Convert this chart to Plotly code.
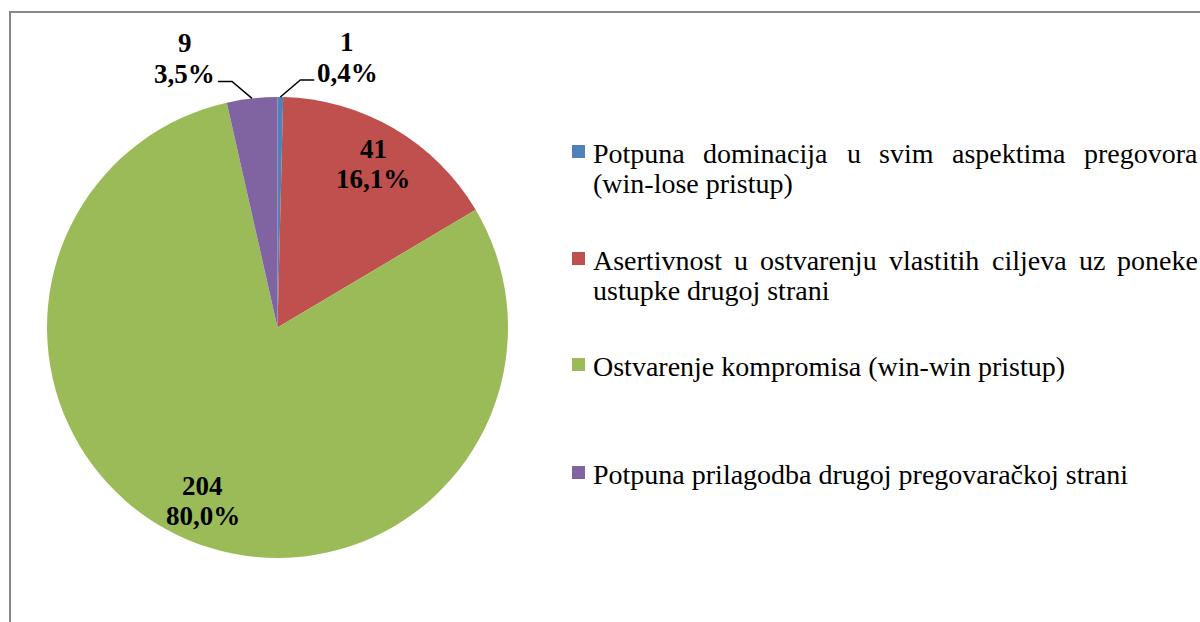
import math
import plotly.graph_objects as go

# ---------------- data ----------------
categories = [
    "Potpuna dominacija u svim aspektima pregovora (win-lose pristup)",
    "Asertivnost u ostvarenju vlastitih ciljeva uz poneke ustupke drugoj strani",
    "Ostvarenje kompromisa (win-win pristup)",
    "Potpuna prilagodba drugoj pregovaračkoj strani",
]
values = [1, 41, 204, 9]
colors = ["#4F81BD", "#C0504D", "#9BBB59", "#8064A2"]
# legend text split into lines (first lines of long items are justified)
legend_lines = [
    ["Potpuna dominacija u svim aspektima pregovora", "(win-lose pristup)"],
    ["Asertivnost u ostvarenju vlastitih ciljeva uz poneke", "ustupke drugoj strani"],
    ["Ostvarenje kompromisa (win-win pristup)"],
    ["Potpuna prilagodba drugoj pregovaračkoj strani"],
]

# ---------------- layout constants ----------------
W, H = 1200, 622
FONT = "Liberation Serif, Times New Roman, serif"
CX, CY, R = 277.5, 327.5, 230.5  # pie centre / radius in px (top-based)
LEG_FS = 28
LAB_FS = 27

def px(x):
    return x / W

def py(y):
    return 1 - y / H

# Times/Liberation Serif advance widths (per 1000 em)
TW = {
    'A': 722, 'P': 556, 'O': 722, '(': 333, ')': 333, '-': 333, ' ': 250,
    'a': 444, 'b': 500, 'c': 444, 'č': 444, 'd': 500, 'e': 444, 'g': 500, 'h': 500,
    'i': 278, 'j': 278, 'k': 500, 'l': 278, 'm': 778, 'n': 500, 'o': 500,
    'p': 500, 'r': 333, 's': 389, 't': 278, 'u': 500, 'v': 500, 'w': 722,
    'z': 444,
}

def text_w(s, fs):
    return sum(TW.get(c, 500) for c in s) * fs / 1000.0

total = sum(values)
fig = go.Figure()
fig.add_trace(go.Pie(
    values=values, labels=categories, sort=False, direction="clockwise",
    rotation=0, marker=dict(colors=colors, line=dict(width=0)),
    textinfo="none", hoverinfo="label+value+percent",
    domain=dict(x=[px(CX - R), px(CX + R)], y=[py(CY + R), py(CY - R)]),
    showlegend=False,
))

annotations = []
shapes = []

# frame
shapes.append(dict(type="rect", xref="paper", yref="paper",
                   x0=px(10), x1=px(1215), y0=py(640), y1=py(12),
                   line=dict(color="#888888", width=2), fillcolor="rgba(0,0,0,0)"))

def add_text(x, y, txt, size, bold=False, xanchor="center"):
    annotations.append(dict(
        x=px(x), y=py(y), xref="paper", yref="paper", text=(f"<b>{txt}</b>" if bold else txt),
        showarrow=False, xanchor=xanchor, yanchor="middle",
        font=dict(family=FONT, size=size, color="#000000")))

# data labels
cum = 0
for i, v in enumerate(values):
    mid = (cum + v / 2) / total * 2 * math.pi
    cum += v
    pct = f"{100 * v / total:.1f}".replace(".", ",")
    sx, sy = math.sin(mid), -math.cos(mid)
    if v / total > 0.1:
        lx, ly = CX + 0.82 * R * sx, CY + 0.82 * R * sy
        add_text(lx, ly - 15, str(v), LAB_FS, True)
        add_text(lx, ly + 15, pct + "%", LAB_FS, True)
    else:
        ex, ey = CX + R * sx, CY + R * sy
        d = 1 if sx >= 0 else -1
        kx, ky = ex + d * 20, ey - 17
        tx = kx + d * 14
        shapes.append(dict(type="path", xref="paper", yref="paper",
                           path=f"M {px(ex)},{py(ey)} L {px(kx)},{py(ky)} L {px(tx)},{py(ky)}",
                           line=dict(color="#000000", width=1.5)))
        cxl = tx + d * 33
        add_text(cxl, ky - 38, str(v), LAB_FS, True)
        add_text(cxl, ky - 7, pct + "%", LAB_FS, True)

# legend
LX0, LX1 = 591, 1196
first_y = [153, 260, 366, 474]
for i, lines in enumerate(legend_lines):
    y0 = first_y[i]
    shapes.append(dict(type="rect", xref="paper", yref="paper",
                       x0=px(572), x1=px(585), y0=py(y0 + 5), y1=py(y0 - 8),
                       fillcolor=colors[i], line=dict(width=0)))
    for j, line in enumerate(lines):
        yy = y0 + 30 * j
        if len(lines) > 1 and j == 0:
            words = line.split(" ")
            ws = [text_w(w, LEG_FS) for w in words]
            gap = (LX1 - LX0 - sum(ws)) / (len(words) - 1)
            x = LX0
            for w, wd in zip(words, ws):
                add_text(x, yy, w, LEG_FS, xanchor="left")
                x += wd + gap
        else:
            add_text(LX0, yy, line, LEG_FS, xanchor="left")

fig.update_layout(
    width=W, height=H, margin=dict(l=0, r=0, t=0, b=0),
    paper_bgcolor="white", plot_bgcolor="white",
    annotations=annotations, shapes=shapes, showlegend=False,
)
fig.write_html("out.html", config={"displayModeBar": False},
               post_script="document.body.style.margin='0';document.body.style.overflow='hidden';")
